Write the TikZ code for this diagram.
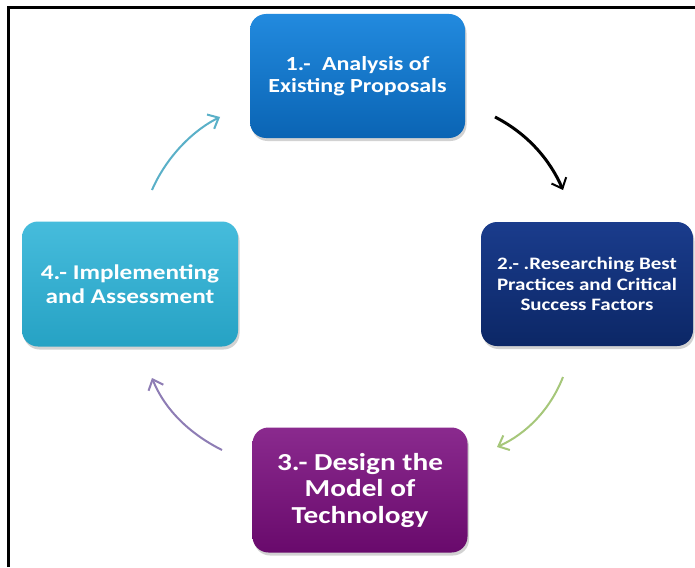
\documentclass[tikz,border=0pt]{standalone}
\usepackage{fontspec}
\setmainfont{Carlito}
\newfontfamily\boxfont{Carlito}[FakeStretch=1.2]
\usetikzlibrary{arrows.meta,shadows}
\definecolor{bA}{HTML}{228ADE}
\definecolor{bAd}{HTML}{0A64B4}
\definecolor{bB}{HTML}{1A3C8C}
\definecolor{bBd}{HTML}{0C2766}
\definecolor{bC}{HTML}{8A2A8E}
\definecolor{bCd}{HTML}{690A6C}
\definecolor{bD}{HTML}{46BCDC}
\definecolor{bDd}{HTML}{26A2C4}
\definecolor{arG}{HTML}{A6C77A}
\definecolor{arP}{HTML}{8E7DB5}
\definecolor{arT}{HTML}{5AB0C8}
\tikzset{
  stepbox/.style={rounded corners=16pt, draw=none, align=center, text=white,
    drop shadow={shadow xshift=1.5pt, shadow yshift=-3pt, opacity=0.35}},
  flow/.style={line width=2pt, -{Straight Barb[length=9pt,width=16pt,line width=2pt]}},
}
\begin{document}
\begin{tikzpicture}[x=1pt,y=-1pt]
\useasboundingbox (0,0) rectangle (695,567);
\fill[white] (0,0) rectangle (695,567);
\draw[line width=2.5pt] (8.5,567) -- (8.5,7.5) -- (695,7.5);
\node[stepbox, minimum width=215pt, minimum height=124pt, top color=bA, bottom color=bAd, font=\boxfont\bfseries\fontsize{20}{21.5}\selectfont] (n1) at (357.5,76) {1.-\hspace{6pt} Analysis of\\Existing Proposals};
\node[stepbox, minimum width=212pt, minimum height=124pt, top color=bB, bottom color=bBd, font=\boxfont\bfseries\fontsize{17.5}{20.5}\selectfont] (n2) at (587,284) {2.- .Researching Best\\Practices and Critical\\Success Factors};
\node[stepbox, minimum width=215pt, minimum height=125pt, top color=bC, bottom color=bCd, font=\boxfont\bfseries\fontsize{24.4}{26.5}\selectfont] (n3) at (360,490) {3.- Design the\\Model of\\Technology};
\node[stepbox, minimum width=216pt, minimum height=125pt, top color=bD, bottom color=bDd, font=\boxfont\bfseries\fontsize{21}{24}\selectfont] (n4) at (130,284) {4.- Implementing\\and Assessment};
\coordinate (a1s) at (495,117);
\coordinate (a1e) at (563,190);
\coordinate (a2s) at (563,377);
\coordinate (a2e) at (497,447);
\coordinate (a3s) at (222,450);
\coordinate (a3e) at (152,378);
\coordinate (a4s) at (152,190);
\coordinate (a4e) at (220,117);
\draw[flow, black, line width=3pt] (a1s) .. controls (528,134) and (550,160) .. (a1e);
\draw[flow, arG] (a2s) .. controls (550,410) and (526,434) .. (a2e);
\draw[flow, arP] (a3s) .. controls (190,434) and (165,410) .. (a3e);
\draw[flow, arT] (a4s) .. controls (165,160) and (190,132) .. (a4e);
\end{tikzpicture}
\end{document}
